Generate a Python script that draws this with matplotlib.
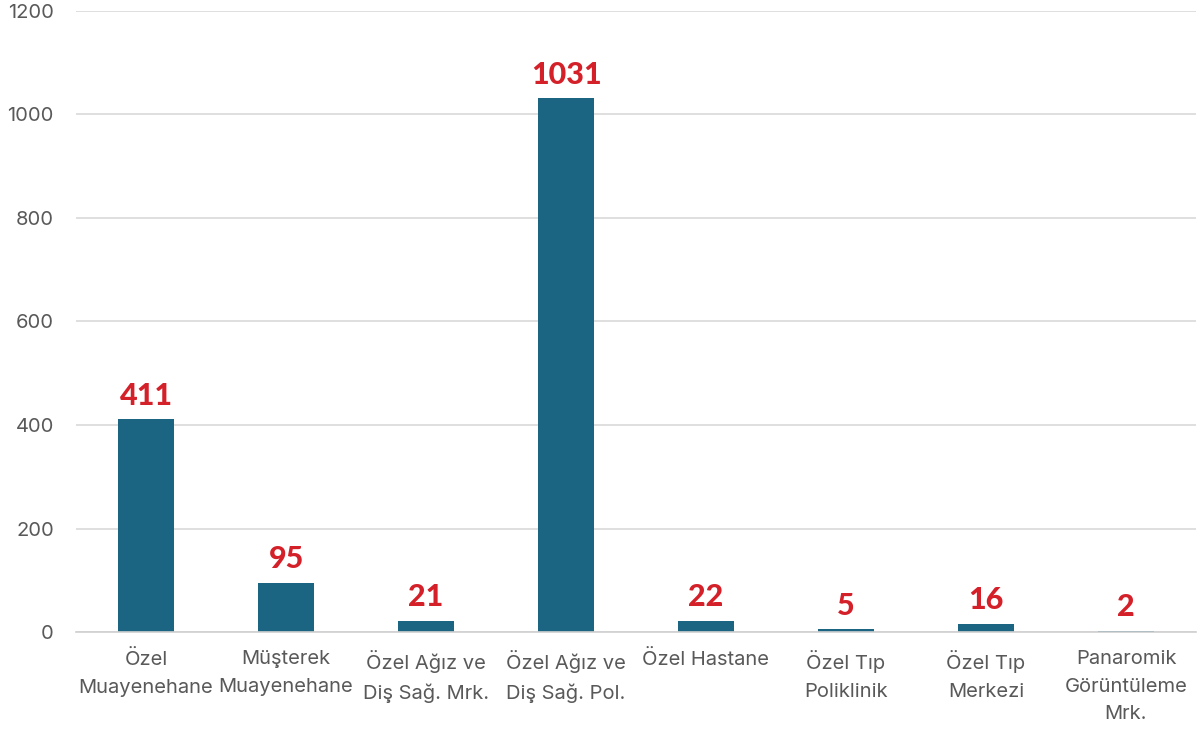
import matplotlib
matplotlib.use("Agg")
import matplotlib.pyplot as plt

categories = ["Özel\nMuayenehane", "Müşterek\nMuayenehane", "Özel Ağız ve\nDiş Sağ. Mrk.",
              "Özel Ağız ve\nDiş Sağ. Pol.", "Özel Hastane", "Özel Tıp\nPoliklinik",
              "Özel Tıp\nMerkezi", "Panaromik\nGörüntüleme\nMrk."]
values = [411, 95, 21, 1031, 22, 5, 16, 2]
yticks = [0, 200, 400, 600, 800, 1000, 1200]

fig = plt.figure(figsize=(12.02, 7.33), dpi=100)
ax = fig.add_axes([76/1202, 101/733, 1120/1202, 621/733])
x = list(range(len(categories)))
bars = ax.bar(x, values, width=0.4, color="#1B6583", zorder=3)
ax.set_xlim(-0.5, len(categories) - 0.5)
ax.set_ylim(0, 1200)
ax.set_yticks(yticks)
ax.set_yticklabels([str(v) for v in yticks], fontsize=14.5, color="#595959", family="Inter")
ax.set_xticks(x)
ax.set_xticklabels(categories, fontsize=14.5, color="#595959", family="Inter", linespacing=1.68, va="top")
ax.tick_params(axis="both", length=0)
ax.tick_params(axis="y", pad=16)
ax.tick_params(axis="x", pad=13)
ax.grid(axis="y", color="#d9d9d9", linewidth=1.2, zorder=0)
for s in ["top", "right", "left"]:
    ax.spines[s].set_visible(False)
ax.spines["bottom"].set_color("#d0d0d0")
ax.spines["bottom"].set_linewidth(1.2)
ax.spines["bottom"].set_zorder(4)

for xi, v in zip(x, values):
    ax.annotate(str(v), (xi, v), xytext=(0, 7), textcoords="offset points",
                ha="center", va="bottom", fontsize=22, fontweight="black",
                color="#D42029", family="Lato")

fig.savefig("out.png", dpi=100)
